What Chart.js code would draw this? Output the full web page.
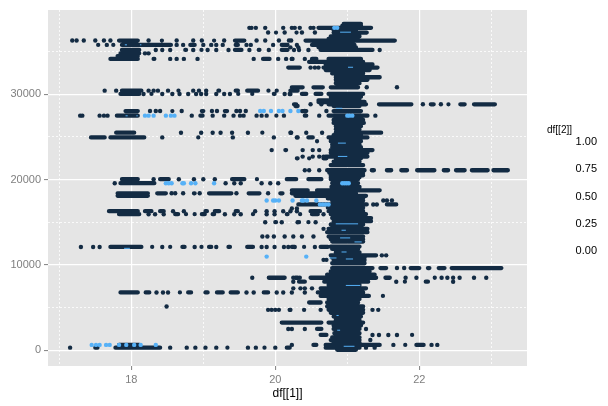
<!DOCTYPE html>
<html>
<head>
<meta charset="utf-8">
<title>df[[1]] vs row</title>
<style>
  html, body { margin: 0; padding: 0; background: #fff; }
  canvas { display: block; }
</style>
<script src="https://cdn.jsdelivr.net/npm/chart.js@4/dist/chart.umd.min.js"></script>
</head>
<body>
<canvas id="plot" width="608" height="406"></canvas>
<script>
// tick values
const xTicks = [17, 18, 19, 20, 21, 22, 23];
const xLabels = [18, 20, 22];
const yTicks = [0, 5000, 10000, 15000, 20000, 25000, 30000, 35000];
const yLabels = [0, 10000, 20000, 30000];
const legendLabels = ['1.00', '0.75', '0.50', '0.25', '0.00'];

// separate points: [row y, x, x, x ...]
const darkDots = [
  [37790, 19.64, 19.67, 19.73, 19.86, 20.11, 20.23, 20.27, 20.34, 20.49, 20.53],
  [37240, 19.90, 20.13, 20.37, 20.55],
  [36300, 17.18, 17.24, 17.34, 17.50, 17.62, 17.71, 18.24, 18.63, 18.86, 18.98, 19.29, 19.74, 19.86, 20.05, 20.19, 20.22],
  [35790, 17.66, 18.63, 18.72, 19.00, 19.11, 19.18, 19.27, 19.60, 19.66, 19.97, 20.30],
  [35500, 20.21, 20.32],
  [35200, 18.34, 18.43, 18.54, 18.86, 19.06, 19.18, 19.35, 19.64, 19.91, 20.26, 20.33, 20.46, 21.45],
  [34800, 18.19, 18.24],
  [34150, 18.54, 18.63, 18.73, 18.92, 19.70, 20.04, 20.15, 20.23, 20.41],
  [33130, 20.49, 20.55, 20.60],
  [30820, 21.27, 21.69],
  [30430, 17.63, 17.79, 18.24, 18.31, 18.37, 18.51, 18.86, 18.94, 19.04],
  [30040, 18.17, 18.43, 18.57, 18.67, 18.79, 18.90, 18.97, 19.04, 19.18, 19.29, 19.37, 20.13, 20.20, 20.21],
  [28830, 20.49, 20.64, 22.05, 22.30],
  [28040, 18.26, 18.34, 18.40, 18.70, 19.12, 19.19, 19.46, 19.51, 19.59, 20.41, 20.71],
  [27500, 17.29, 17.32, 17.56, 17.62, 17.67, 18.84, 19.13, 19.29, 19.42, 19.51, 19.56, 19.74, 19.81, 19.88, 20.12, 20.61, 21.39],
  [25500, 18.69, 18.97, 19.13, 19.24, 19.40, 19.62, 20.21, 20.22, 20.43, 20.65],
  [24950, 18.43, 19.41, 19.98, 20.30, 20.31],
  [23460, 19.95, 20.38, 20.52, 20.61],
  [22700, 20.38, 20.52, 20.61, 20.67],
  [21100, 20.41, 20.47, 20.61],
  [20050, 18.31, 18.66, 18.87, 19.00, 19.16],
  [19580, 17.77, 19.31, 19.43, 19.52, 19.81, 19.93, 20.04],
  [18400, 18.56, 18.61, 18.72, 18.95, 19.46, 19.90],
  [17090, 21.36, 21.41],
  [17550, 21.50, 21.55, 21.62],
  [16620, 20.23, 20.30],
  [16300, 18.58, 18.73, 19.72, 19.88, 19.99, 20.11, 20.21, 20.30],
  [15950, 18.24, 18.33, 18.45, 19.30, 19.43, 19.52, 19.88, 19.99, 20.67],
  [15010, 19.86, 20.09, 20.31, 20.56],
  [14230, 20.67],
  [13330, 19.82, 19.89, 19.98, 20.13, 20.25, 20.37, 20.53],
  [12110, 17.30, 17.47, 17.56, 18.43, 18.88, 19.18, 19.81, 19.88, 19.99, 20.12, 20.18, 20.27, 20.55],
  [11130, 21.48, 21.54],
  [10600, 20.67, 20.71],
  [9640, 21.69, 21.79],
  [8500, 19.68, 20.25, 20.34, 21.81, 21.96, 22.31, 22.39, 22.47, 22.56, 22.76, 22.93],
  [8040, 20.25, 21.68, 22.47],
  [7260, 20.25, 20.35, 20.41, 20.51],
  [6780, 18.35, 18.44, 18.51, 19.60, 19.70, 20.02, 20.11, 20.23, 20.41],
  [5130, 18.49],
  [4740, 19.90, 19.95, 20.00, 20.05, 20.20, 20.21, 20.40, 20.63, 21.35, 21.43],
  [2500, 20.18, 20.23, 20.41, 21.26],
  [1800, 21.35, 21.44, 21.57, 21.69],
  [1200, 21.32],
  [630, 20.23, 21.64, 22.17, 22.25],
  [310, 17.15, 18.54, 18.77, 18.89, 19.03, 19.18, 19.62, 19.73, 20.00, 21.26, 21.38]
];

// overplotted stretches, ends read at the outer edge of the dots: [row y, from, to, from, to ...]
const darkRuns = [
  [38250, 20.92, 21.22],
  [38020, 20.90, 21.22],
  [37790, 20.57, 21.36],
  [37500, 20.78, 21.15],
  [37240, 19.99, 20.03, 20.27, 20.32, 20.78, 21.30],
  [36800, 20.74, 21.20],
  [36500, 20.71, 21.10],
  [36300, 17.80, 18.12, 18.40, 18.45, 19.12, 19.18, 19.41, 19.60, 20.39, 21.69],
  [35790, 17.52, 17.56, 17.73, 17.77, 17.84, 18.58, 18.79, 18.91, 19.42, 19.51, 20.06, 20.20, 20.48, 21.13],
  [35500, 20.57, 21.15],
  [35200, 17.84, 18.14, 18.72, 18.79, 18.95, 19.00, 19.41, 19.56, 19.74, 19.81, 20.06, 20.20, 20.60, 21.38],
  [34800, 17.82, 18.14],
  [34480, 17.78, 18.12],
  [34150, 17.68, 18.12, 18.28, 18.35, 19.80, 19.95, 20.20, 20.27, 20.48, 20.60, 20.71, 21.22],
  [33800, 20.44, 21.25],
  [33500, 20.67, 21.38],
  [33130, 20.15, 20.37, 20.64, 21.45],
  [32850, 20.67, 21.34],
  [32450, 20.76, 21.25],
  [32000, 20.81, 21.48],
  [31700, 20.81, 21.31],
  [31300, 20.81, 21.20],
  [30820, 20.20, 20.41, 20.50, 20.69, 20.74, 21.18],
  [30430, 17.84, 18.17, 18.63, 18.68, 19.18, 19.25, 19.42, 19.51, 19.58, 19.79, 19.88, 19.93, 20.00, 20.04, 20.18, 20.34],
  [30040, 17.82, 18.14, 18.26, 18.30, 19.46, 19.51, 19.65, 19.72, 19.95, 20.02, 20.34, 20.46, 20.53, 20.67, 20.71, 21.25],
  [29700, 20.74, 21.22],
  [29300, 20.57, 21.20],
  [29100, 20.57, 21.27],
  [28830, 20.23, 20.32, 20.71, 21.29, 21.41, 21.92, 22.13, 22.23, 22.38, 22.43, 22.54, 22.66, 22.73, 23.08],
  [28630, 20.25, 20.34, 20.78, 21.20],
  [28040, 17.89, 18.12, 18.54, 18.60, 18.95, 19.03, 19.27, 19.36, 20.34, 20.46, 20.78, 21.22],
  [27500, 17.77, 18.12, 18.93, 19.02, 19.99, 20.04, 20.38, 20.46, 20.71, 21.31],
  [27000, 20.78, 21.25],
  [26650, 20.78, 21.26],
  [26260, 20.81, 21.22],
  [25900, 20.81, 21.20],
  [25500, 17.76, 18.07, 19.80, 19.84, 20.81, 21.50],
  [25200, 20.78, 21.22],
  [24950, 17.41, 17.66, 17.68, 18.21, 18.91, 18.95, 20.43, 20.55, 20.71, 21.31],
  [24500, 20.55, 20.62, 20.74, 21.22],
  [24100, 20.76, 21.20],
  [23800, 20.76, 21.22],
  [23460, 20.11, 20.18, 20.74, 21.38],
  [23150, 20.74, 21.31],
  [22700, 20.67, 21.31],
  [22500, 20.27, 20.34, 20.44, 20.50, 20.64, 20.74, 20.81, 21.22],
  [22100, 20.78, 21.20],
  [21700, 20.74, 21.25],
  [21100, 20.69, 21.27, 21.31, 21.40, 21.52, 21.64, 21.72, 21.86, 21.94, 22.24, 22.31, 22.43, 22.48, 22.66, 22.70, 22.98, 23.00, 23.26],
  [20800, 20.72, 21.25],
  [20500, 20.74, 21.25],
  [20280, 20.74, 21.20],
  [20050, 17.84, 18.12, 18.37, 18.55, 19.37, 19.60, 19.72, 19.77, 20.13, 20.32, 20.43, 20.67, 20.74, 21.18],
  [19580, 17.82, 18.35, 20.76, 21.18],
  [19150, 20.75, 21.20],
  [18750, 20.20, 20.48, 20.55, 21.48],
  [18400, 17.78, 18.26, 18.33, 18.51, 18.84, 18.91, 19.05, 19.42, 19.60, 19.81, 20.04, 20.13, 20.20, 21.15],
  [18100, 17.78, 18.26, 20.25, 21.29],
  [17800, 20.70, 21.25],
  [17550, 20.76, 21.25],
  [17090, 20.29, 21.30, 21.52, 21.71],
  [16700, 20.70, 21.25],
  [16300, 17.66, 18.12, 18.16, 18.31, 18.37, 18.48, 19.00, 19.08, 19.13, 19.25, 19.42, 19.51, 20.46, 20.65, 20.71, 21.25],
  [15950, 17.80, 18.14, 18.58, 18.68, 18.73, 18.80, 18.85, 18.91, 18.95, 19.05, 19.10, 19.18, 19.66, 19.72, 20.13, 20.20, 20.32, 20.37, 20.48, 20.62, 20.74, 21.29],
  [15500, 20.76, 21.36],
  [15130, 20.78, 21.36],
  [15010, 19.97, 20.04, 20.30, 20.37, 20.44, 20.48],
  [14740, 20.74, 21.25],
  [14230, 20.71, 21.31],
  [13840, 20.69, 21.31],
  [13330, 20.71, 21.25],
  [13000, 20.74, 21.25],
  [12740, 20.76, 21.25],
  [12150, 20.74, 21.20],
  [12110, 17.68, 18.17, 18.26, 18.33, 18.51, 18.58, 18.68, 18.77, 18.95, 19.00, 19.05, 19.14, 19.32, 19.40, 19.58, 19.72, 20.20, 20.29, 20.37, 20.44, 20.60, 20.76],
  [11880, 20.76, 21.18],
  [11480, 20.81, 21.20],
  [11130, 20.74, 21.43],
  [10850, 20.76, 21.27],
  [10590, 20.78, 21.27],
  [10200, 20.76, 21.27],
  [9640, 20.76, 21.38, 21.43, 21.57, 21.85, 22.03, 22.09, 22.17, 22.24, 22.38, 22.42, 23.17],
  [9250, 20.74, 21.34],
  [8860, 20.69, 21.41],
  [8500, 19.88, 20.16, 20.25, 20.34, 20.46, 21.43, 21.50, 21.62, 22.19, 22.24],
  [8040, 20.30, 20.44, 20.65, 21.32, 21.78, 21.82, 22.06, 22.15],
  [7650, 20.71, 21.20],
  [7260, 20.60, 21.29],
  [6780, 17.82, 18.12, 18.17, 18.28, 18.65, 18.70, 18.76, 18.86, 19.00, 19.09, 19.16, 19.30, 19.35, 19.51, 19.81, 19.93, 20.56, 21.25],
  [6370, 20.60, 21.33, 21.47, 21.52],
  [6000, 20.71, 21.20],
  [5600, 20.44, 20.66, 20.69, 21.18],
  [5130, 20.69, 21.25],
  [4740, 20.71, 21.25],
  [4400, 20.74, 21.25],
  [3950, 20.78, 21.22],
  [3530, 20.81, 21.20],
  [3250, 20.06, 20.67, 20.71, 21.25],
  [2900, 20.78, 21.22],
  [2500, 20.55, 20.67, 20.78, 21.20],
  [2000, 20.79, 21.20],
  [1800, 20.60, 20.74, 21.87, 21.93],
  [1500, 20.76, 21.20],
  [1200, 20.74, 21.20],
  [900, 20.78, 21.20],
  [630, 17.80, 18.14, 20.50, 20.60, 20.67, 21.48, 21.78, 21.83, 21.93, 22.09],
  [310, 17.47, 17.56, 17.75, 18.43, 19.32, 19.35, 19.83, 19.87, 20.13, 20.23, 20.67, 21.20],
  [50, 20.83, 21.15]
];

// df[[2]] == 1 points
const lightDots = [
  [37790, 20.82, 20.86],
  [28040, 19.79, 19.84, 19.94, 20.05, 20.10, 20.21, 20.32],
  [27500, 18.19, 18.24, 18.31, 18.48, 18.55, 18.60, 21.00, 21.03, 21.07],
  [17550, 19.88, 19.97, 20.00, 20.05, 20.24, 20.37, 20.39, 20.44, 20.57],
  [17090, 20.62, 20.66, 20.70, 20.74],
  [10980, 19.88, 20.43],
  [630, 17.45, 17.51, 17.56, 17.65, 17.70, 17.83, 17.93, 18.04, 18.13, 18.34],
  [19580, 18.48, 18.52, 18.56, 18.71, 18.73, 18.83, 18.89, 19.15, 20.93, 20.96, 20.99, 21.02]
];

// thin slivers of df[[2]] == 1 left showing inside the dark stretches
const lightRuns = [
  [37280, 20.90, 21.05],
  [35800, 17.91, 17.94],
  [35800, 18.12, 18.14],
  [33170, 21.01, 21.08],
  [28360, 20.84, 20.93],
  [27480, 17.92, 17.95],
  [27480, 18.07, 18.09],
  [24280, 20.87, 20.98],
  [22720, 20.87, 21.00],
  [14820, 20.84, 21.15],
  [14070, 20.92, 20.98],
  [13170, 20.90, 21.04],
  [12700, 21.10, 21.20],
  [11950, 17.90, 17.98],
  [11520, 20.92, 20.99],
  [10820, 20.75, 20.85],
  [10700, 20.98, 21.08],
  [7600, 20.98, 21.18],
  [4080, 20.85, 20.88],
  [2350, 20.86, 20.90],
  [470, 20.95, 21.10]
];

const DARK = '#132B43', LIGHT = '#56B1F7', PANEL = '#E5E5E5', AXIS = '#7F7F7F';
const FONT = '"Liberation Sans", Arial, sans-serif';

function dots(rows) {
  const out = [];
  rows.forEach(r => r.slice(1).forEach(x => out.push({ x: x, y: r[0] })));
  return out;
}

// null point between stretches so the line breaks.
// edge = how far to pull the ends in, round caps add that back
function runs(rows, edge) {
  const out = [];
  rows.forEach(r => {
    for (let i = 1; i < r.length; i += 2) {
      const mid = (r[i] + r[i + 1]) / 2;
      out.push(
        { x: Math.min(r[i] + edge, mid), y: r[0] },
        { x: Math.max(r[i + 1] - edge, mid), y: r[0] },
        { x: null, y: null }
      );
    }
  });
  return out;
}

function isMajor(list, v) { return list.indexOf(v) >= 0; }

const panelBg = {
  id: 'panelBg',
  beforeDraw(chart) {
    const a = chart.chartArea, c = chart.ctx;
    c.save();
    c.fillStyle = PANEL;
    c.fillRect(a.left, a.top, a.right - a.left, a.bottom - a.top);
    c.restore();
  }
};

const legendText = {
  id: 'legendText',
  afterDraw(chart) {
    const c = chart.ctx;
    c.save();
    c.fillStyle = '#000';
    c.textBaseline = 'middle';
    c.font = '10px ' + FONT;
    c.textAlign = 'left';
    c.fillText('df[[2]]', 547, 130);
    c.font = '11px ' + FONT;
    c.textAlign = 'right';
    legendLabels.forEach((t, i) => c.fillText(t, 597, 142 + i * 27.3));
    c.restore();
  }
};

new Chart(document.getElementById('plot'), {
  type: 'scatter',
  plugins: [panelBg, legendText],
  data: {
    datasets: [
      { type: 'line', data: runs(darkRuns, 0.03), borderColor: DARK, borderWidth: 4.3, borderCapStyle: 'round', pointRadius: 0, spanGaps: false, tension: 0, order: 4 },
      { data: dots(darkDots), backgroundColor: DARK, borderWidth: 0, pointRadius: 2.2, order: 3 },
      { data: dots(lightDots), backgroundColor: LIGHT, borderWidth: 0, pointRadius: 2.2, order: 2 },
      { type: 'line', data: runs(lightRuns, 0), borderColor: LIGHT, borderWidth: 1, pointRadius: 0, spanGaps: false, tension: 0, order: 1 }
    ]
  },
  options: {
    responsive: false,
    animation: false,
    layout: { padding: { top: 10, right: 81, left: 0, bottom: 0 } },
    plugins: { legend: { display: false }, tooltip: { enabled: false } },
    scales: {
      x: {
        type: 'linear',
        min: 16.843,
        max: 23.496,
        afterBuildTicks: s => { s.ticks = xTicks.map(v => ({ value: v })); },
        afterFit: s => { s.height = 40; },
        border: { display: false, dash: c => isMajor(xLabels, c.tick && c.tick.value) ? [] : [2, 2] },
        grid: {
          color: '#FFFFFF',
          lineWidth: c => isMajor(xLabels, c.tick && c.tick.value) ? 1.2 : 0.8,
          tickColor: c => isMajor(xLabels, c.tick && c.tick.value) ? AXIS : 'rgba(0,0,0,0)',
          tickLength: 4,
          tickWidth: 1,
          tickBorderDash: []
        },
        ticks: {
          autoSkip: false,
          maxRotation: 0,
          padding: 3,
          color: AXIS,
          font: { family: FONT, size: 11 },
          callback: v => isMajor(xLabels, v) ? String(v) : ''
        },
        title: { display: true, text: 'df[[1]]', color: '#000', font: { family: FONT, size: 12 }, padding: { top: 0, bottom: 5 } }
      },
      y: {
        type: 'linear',
        min: -1840,
        max: 39880,
        afterBuildTicks: s => { s.ticks = yTicks.map(v => ({ value: v })); },
        afterFit: s => { s.width = 48; },
        border: { display: false, dash: c => isMajor(yLabels, c.tick && c.tick.value) ? [] : [2, 2] },
        grid: {
          color: '#FFFFFF',
          lineWidth: c => isMajor(yLabels, c.tick && c.tick.value) ? 1.2 : 0.8,
          tickColor: c => isMajor(yLabels, c.tick && c.tick.value) ? AXIS : 'rgba(0,0,0,0)',
          tickLength: 4,
          tickWidth: 1,
          tickBorderDash: []
        },
        ticks: {
          autoSkip: false,
          padding: 3,
          color: AXIS,
          font: { family: FONT, size: 11 },
          callback: v => isMajor(yLabels, v) ? String(v) : ''
        }
      }
    }
  }
});
</script>
</body>
</html>
